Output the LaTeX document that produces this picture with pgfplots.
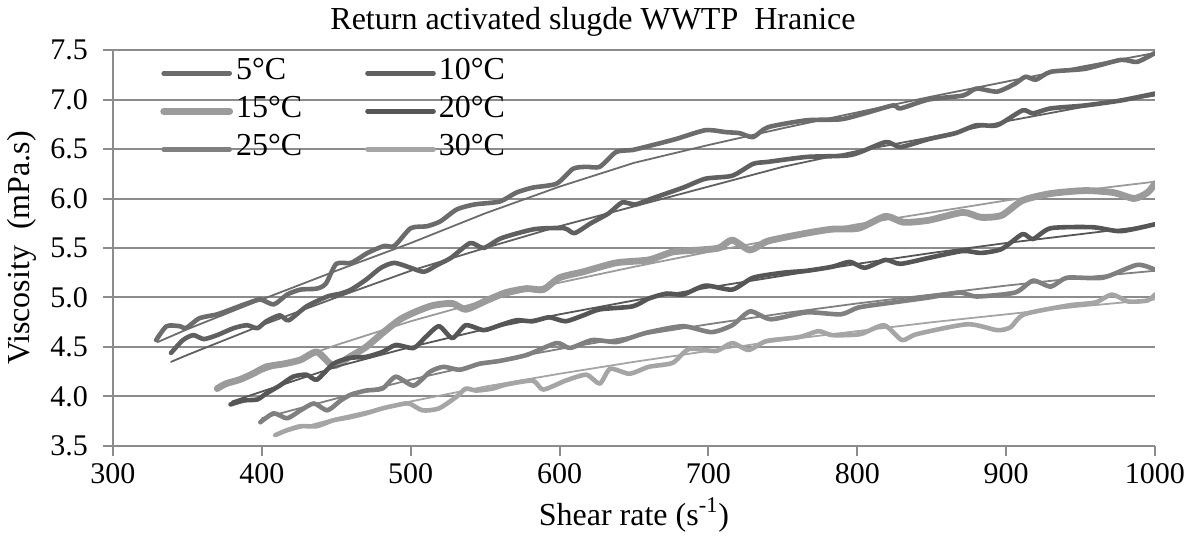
\documentclass[border=0pt]{standalone}
\usepackage{pgfplots}
\pgfplotsset{compat=1.18}
\usepackage{fontspec}
\setmainfont{Liberation Serif}
\definecolor{cA}{RGB}{108,108,108}
\definecolor{cB}{RGB}{96,96,96}
\definecolor{cC}{RGB}{155,155,155}
\definecolor{cD}{RGB}{86,86,86}
\definecolor{cE}{RGB}{128,128,128}
\definecolor{cF}{RGB}{165,165,165}
\definecolor{gridc}{RGB}{140,140,140}
\begin{document}
\begin{tikzpicture}
\useasboundingbox (-56.5pt,-50pt) rectangle (541.5pt,223pt);
\begin{axis}[
  at={(0,0)}, anchor=south west,
  scale only axis, width=521pt, height=198pt,
  xmin=300, xmax=1000, ymin=3.5, ymax=7.5,
  xtick={300,400,...,1000}, ytick={3.5,4.0,...,7.5},
  axis x line=bottom, axis y line=left,
  axis line style={-, gridc, line width=1pt},
  tick style={gridc, line width=1pt},
  tick align=outside, major tick length=5pt,
  ymajorgrids, grid style={gridc, line width=1pt},
  ticklabel style={font=\fontsize{15}{15}\selectfont},
  /pgf/number format/assume math mode=true,
  xticklabel style={/pgf/number format/.cd, fixed, 1000 sep={}},
  yticklabel style={xshift=-4pt, /pgf/number format/.cd, fixed, fixed zerofill, precision=1},
  xlabel={Shear rate (s\textsuperscript{-1})},
  ylabel={Viscosity\ \ (mPa.s)},
  every axis x label/.style={at={(axis description cs:0.5,-0.174)}, anchor=center, font=\fontsize{16}{16}\selectfont},
  every axis y label/.style={at={(axis description cs:-0.0873,0.5)}, rotate=90, anchor=center, font=\fontsize{16}{16}\selectfont},
  legend columns=2,
  legend cell align=left,
  legend style={at={(rel axis cs:0.045,0.99)}, anchor=north west, draw=none, fill=none, inner sep=0pt,
    font=\fontsize{16}{16}\selectfont,
    nodes={inner sep=1.5pt, text height=11pt, text depth=5pt},
    /tikz/every even column/.append style={column sep=30pt}},
  legend image code/.code={\draw[#1] (0pt,0pt) -- (33pt,0pt);},
  every axis plot/.append style={line cap=round, line join=round},
]
% measured
\addplot[cA, line width=2.3pt, smooth, tension=0.4] coordinates {
(329,4.57)(336,4.71)(345,4.71)(349,4.69)(358,4.79)(370,4.83)(381,4.89)(390,4.94)(399,4.98)(408,4.93)
(417,5.03)(426,5.08)(437,5.09)(443,5.14)(450,5.34)(460,5.35)(471,5.45)(482,5.52)(489,5.52)(500,5.70)
(511,5.72)(520,5.77)(531,5.89)(543,5.94)(560,5.97)(571,6.06)(582,6.11)(598,6.15)(609,6.30)(618,6.32)
(627,6.32)(638,6.47)(649,6.49)(660,6.53)(678,6.60)(698,6.69)(712,6.67)(721,6.66)(730,6.62)(740,6.72)
(766,6.79)(789,6.80)(805,6.86)(824,6.94)(829,6.91)(848,7.00)(871,7.04)(880,7.11)(894,7.08)(906,7.16)
(913,7.23)(920,7.20)(930,7.28)(953,7.31)(977,7.40)(988,7.38)(1000,7.47)};
\addlegendentry{5°C}
\addplot[cB, line width=2.3pt, smooth, tension=0.4] coordinates {
(339,4.44)(347,4.57)(354,4.62)(361,4.58)(370,4.62)(381,4.69)(390,4.72)(397,4.69)(403,4.76)(412,4.82)
(418,4.77)(430,4.91)(444,5.01)(453,5.04)(460,5.08)(470,5.18)(480,5.30)(489,5.35)(500,5.30)(509,5.26)
(518,5.33)(527,5.40)(540,5.55)(549,5.50)(561,5.60)(583,5.69)(603,5.70)(610,5.65)(621,5.75)(633,5.85)
(642,5.96)(651,5.94)(662,6.00)(683,6.11)(698,6.20)(716,6.23)(730,6.35)(740,6.37)(766,6.42)(796,6.44)
(819,6.57)(829,6.52)(848,6.60)(866,6.66)(880,6.74)(894,6.74)(911,6.89)(918,6.86)(930,6.91)(953,6.94)
(977,6.99)(1000,7.06)};
\addlegendentry{10°C}
\addplot[cC, line width=3.4pt, smooth, tension=0.4] coordinates {
(370,4.08)(376,4.13)(385,4.17)(394,4.23)(403,4.30)(415,4.33)(426,4.37)(437,4.45)(448,4.31)(459,4.40)
(470,4.50)(481,4.64)(493,4.78)(504,4.86)(515,4.92)(528,4.94)(537,4.88)(551,4.97)(564,5.05)(578,5.09)
(589,5.08)(600,5.20)(616,5.26)(638,5.35)(660,5.38)(676,5.46)(694,5.48)(707,5.50)(716,5.58)(728,5.48)
(740,5.57)(766,5.65)(783,5.69)(801,5.70)(819,5.82)(831,5.76)(848,5.78)(871,5.86)(883,5.81)(897,5.83)
(911,5.98)(930,6.05)(953,6.08)(972,6.06)(986,6.00)(995,6.06)(1000,6.15)};
\addlegendentry{15°C}
\addplot[cD, line width=2.3pt, smooth, tension=0.4] coordinates {
(379,3.92)(388,3.96)(397,3.97)(403,4.03)(412,4.11)(421,4.20)(430,4.22)(437,4.17)(448,4.33)(459,4.39)
(470,4.40)(481,4.45)(490,4.52)(502,4.49)(510,4.60)(519,4.71)(528,4.59)(537,4.72)(549,4.67)(560,4.72)
(571,4.77)(582,4.76)(593,4.80)(604,4.76)(616,4.82)(627,4.88)(649,4.91)(660,4.99)(672,5.04)(683,5.03)
(698,5.12)(716,5.08)(730,5.20)(750,5.25)(766,5.27)(783,5.31)(795,5.36)(805,5.30)(819,5.38)(829,5.34)
(848,5.40)(871,5.47)(883,5.45)(897,5.49)(911,5.64)(918,5.59)(930,5.70)(958,5.71)(977,5.67)(1000,5.74)};
\addlegendentry{20°C}
\addplot[cE, line width=2.3pt, smooth, tension=0.4] coordinates {
(399,3.74)(408,3.83)(417,3.78)(426,3.86)(435,3.93)(444,3.86)(453,3.96)(460,4.02)(470,4.06)(481,4.08)
(490,4.20)(502,4.11)(513,4.25)(522,4.30)(533,4.27)(546,4.33)(560,4.36)(578,4.42)(598,4.54)(607,4.49)
(622,4.57)(638,4.55)(649,4.60)(660,4.65)(683,4.71)(702,4.65)(716,4.72)(728,4.86)(742,4.78)(766,4.85)
(789,4.83)(801,4.90)(824,4.95)(848,5.00)(869,5.05)(880,5.01)(906,5.05)(918,5.17)(930,5.11)(941,5.20)
(965,5.20)(988,5.33)(1000,5.28)};
\addlegendentry{25°C}
\addplot[cF, line width=2.3pt, smooth, tension=0.4] coordinates {
(409,3.61)(417,3.66)(426,3.70)(437,3.70)(448,3.76)(459,3.79)(470,3.83)(481,3.88)(493,3.92)(499,3.93)
(508,3.86)(519,3.88)(531,4.00)(537,4.08)(544,4.06)(555,4.08)(564,4.12)(582,4.16)(589,4.07)(604,4.16)
(618,4.22)(627,4.13)(634,4.28)(647,4.23)(660,4.30)(676,4.34)(687,4.48)(705,4.46)(716,4.54)(727,4.47)
(739,4.56)(761,4.60)(774,4.66)(783,4.62)(802,4.63)(818,4.72)(830,4.57)(840,4.63)(874,4.73)(894,4.67)
(903,4.70)(912,4.83)(942,4.92)(960,4.95)(971,5.03)(982,4.96)(995,4.97)(1000,5.03)};
\addlegendentry{30°C}
% fitted
\addplot[cA, line width=0.9pt, forget plot] coordinates {
(330,4.55)(350,4.68)(400,4.98)(450,5.27)(500,5.55)(550,5.85)(600,6.12)(650,6.36)(700,6.54)(750,6.71)
(800,6.87)(850,7.03)(900,7.18)(950,7.33)(1000,7.47)};
\addplot[cB, line width=0.9pt, forget plot] coordinates {
(339,4.35)(350,4.42)(400,4.72)(450,5.00)(500,5.27)(550,5.50)(600,5.72)(650,5.92)(700,6.12)(750,6.32)
(800,6.48)(850,6.62)(900,6.78)(950,6.92)(1000,7.04)};
\addplot[cC, line width=0.9pt, forget plot] coordinates {
(370,4.08)(400,4.25)(450,4.52)(500,4.76)(550,4.97)(600,5.15)(650,5.31)(700,5.46)(750,5.60)(800,5.74)
(850,5.86)(900,5.98)(950,6.08)(1000,6.17)};
\addplot[cD, line width=0.9pt, forget plot] coordinates {
(380,3.95)(400,4.05)(450,4.30)(500,4.50)(550,4.68)(600,4.83)(650,4.97)(700,5.10)(750,5.22)(800,5.34)
(850,5.45)(900,5.55)(950,5.64)(1000,5.73)};
\addplot[cE, line width=0.9pt, forget plot] coordinates {
(400,3.78)(450,3.98)(500,4.17)(550,4.34)(600,4.48)(650,4.61)(700,4.73)(750,4.84)(800,4.94)(850,5.03)
(900,5.12)(950,5.20)(1000,5.27)};
\addplot[cF, line width=0.9pt, forget plot] coordinates {
(410,3.62)(450,3.78)(500,3.95)(550,4.10)(600,4.23)(650,4.35)(700,4.46)(750,4.57)(800,4.66)(850,4.75)
(900,4.83)(950,4.91)(1000,4.98)};
\end{axis}
\node[font=\fontsize{16}{16}\selectfont, anchor=center] at (240pt,212pt) {Return activated slugde WWTP\ \ Hranice};
\end{tikzpicture}
\end{document}
